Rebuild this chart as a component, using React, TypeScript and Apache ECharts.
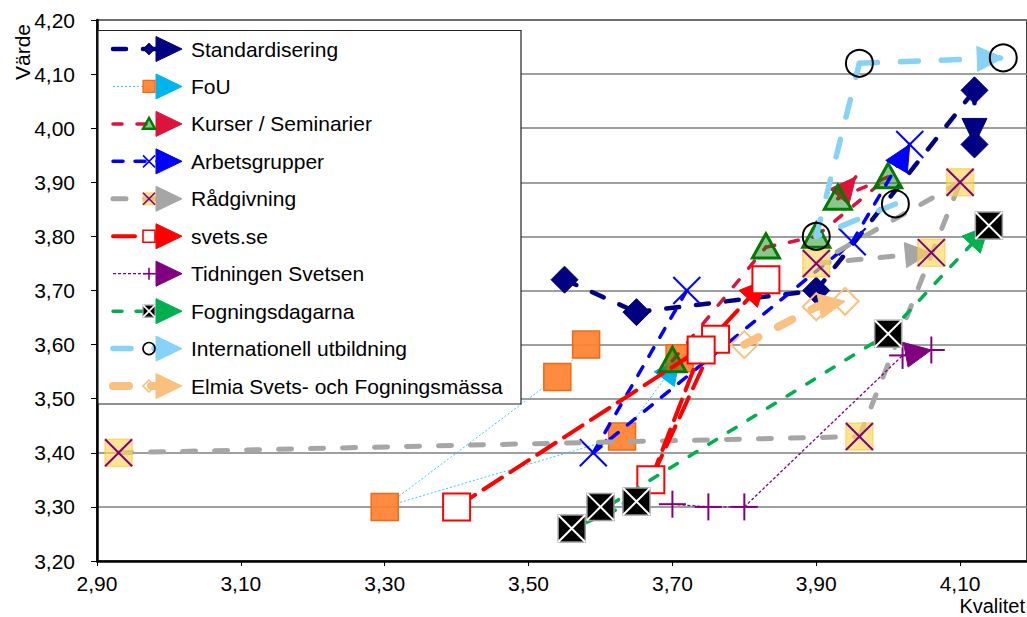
import React, { useEffect, useRef } from 'react';
import * as echarts from 'echarts';

// ---------- data ----------
const seriesNames = [
  'Standardisering',
  'FoU',
  'Kurser / Seminarier',
  'Arbetsgrupper',
  'Rådgivning',
  'svets.se',
  'Tidningen Svetsen',
  'Fogningsdagarna',
  'Internationell utbildning',
  'Elmia Svets- och Fogningsmässa',
];

// [Kvalitet, Värde]
const standardisering = [[3.55, 3.72], [3.65, 3.66], [3.90, 3.70], [4.12, 4.07], [4.12, 3.97]];
const fou = [[3.58, 3.60], [3.54, 3.54], [3.30, 3.30], [3.63, 3.43], [3.71, 3.575]];
const kurser = [[3.70, 3.57], [3.83, 3.78], [3.90, 3.80], [4.00, 3.91], [3.93, 3.87], [3.955, 3.91]];
const arbetsgrupper = [[3.72, 3.70], [3.59, 3.40], [3.95, 3.79], [4.03, 3.97]];
const radgivning = [[2.93, 3.40], [3.96, 3.43], [4.10, 3.90], [3.90, 3.75], [4.06, 3.77]];
const svetsSe = [[3.40, 3.30], [3.76, 3.61], [3.67, 3.35], [3.74, 3.59], [3.83, 3.72]];
const tidningen = [[3.70, 3.305], [3.75, 3.30], [3.80, 3.30], [4.02, 3.58], [4.06, 3.59]];
const fogningsdagarna = [[3.60, 3.30], [3.65, 3.31], [3.56, 3.26], [4.00, 3.62], [4.14, 3.82]];
const internationell = [[4.01, 3.86], [3.90, 3.80], [3.96, 4.12], [4.16, 4.13]];
const elmia = [[3.80, 3.60], [3.90, 3.67], [3.94, 3.68]];

const seriesData = [
  standardisering, fou, kurser, arbetsgrupper, radgivning,
  svetsSe, tidningen, fogningsdagarna, internationell, elmia,
];

const xTicks = [2.9, 3.1, 3.3, 3.5, 3.7, 3.9, 4.1];
const yTicks = [3.2, 3.3, 3.4, 3.5, 3.6, 3.7, 3.8, 3.9, 4.0, 4.1, 4.2];
const X_MAX = 4.193;
const xAxisTitle = 'Kvalitet';
const yAxisTitle = 'Värde';

// ---------- styles ----------
type St = {
  color: string; width: number; dash: number[]; cap?: string; arrow: string;
  marker: string; fill?: string; stroke?: string; cross?: string; mlw?: number; hideLast?: boolean;
};
const styles: St[] = [
  { color: '#000080', width: 4.5, dash: [13, 17], arrow: '#000080', marker: 'diamond', fill: '#000080', stroke: '#000080', mlw: 1 },
  { color: '#33CCFF', width: 1, dash: [2, 2], cap: 'butt', arrow: '#00B4EF', marker: 'square', fill: 'rgba(255,128,48,0.92)', stroke: '#F06A12', mlw: 1.5 },
  { color: '#DC143C', width: 3.5, dash: [9, 15], arrow: '#DC143C', marker: 'triangle', fill: 'rgba(0,128,0,0.45)', stroke: '#007A00', mlw: 3, hideLast: true },
  { color: '#0000FF', width: 3.5, dash: [10, 12], arrow: '#0000FF', marker: 'x', stroke: '#0000FF', mlw: 2 },
  { color: '#A6A6A6', width: 5, dash: [13, 19], arrow: '#A6A6A6', marker: 'xsquare', fill: 'rgba(255,214,90,0.65)', stroke: 'rgba(250,200,60,0.6)', cross: '#7F007F', mlw: 1.5 },
  { color: '#FF0000', width: 4, dash: [22, 10], arrow: '#FF0000', marker: 'square', fill: '#FFFFFF', stroke: '#FF0000', mlw: 2 },
  { color: '#800080', width: 1.3, dash: [3, 2], cap: 'butt', arrow: '#800080', marker: 'plus', stroke: '#800080', mlw: 2 },
  { color: '#00B050', width: 3.5, dash: [9, 14], arrow: '#00B050', marker: 'xsquare', fill: '#000000', stroke: '#9A9A9A', cross: '#FFFFFF', mlw: 1.5 },
  { color: '#87D3F8', width: 5.5, dash: [18, 23], arrow: '#87D3F8', marker: 'circle', fill: 'none', stroke: '#000000', mlw: 2 },
  { color: '#FAC080', width: 8, dash: [16, 22], arrow: '#FAC080', marker: 'diamond', fill: 'none', stroke: '#FAC080', mlw: 2 },
];

const FONT = '"Liberation Sans", Arial, sans-serif';

function markerEls(st: St, cx: number, cy: number, s: number, z2: number, lwScale = 1): any[] {
  const lw = (st.mlw || 1) * lwScale;
  const els: any[] = [];
  const stroke = st.stroke || st.color;
  switch (st.marker) {
    case 'diamond':
      els.push({ type: 'polygon', z2, shape: { points: [[cx, cy - s], [cx + s, cy], [cx, cy + s], [cx - s, cy]] }, style: { fill: st.fill, stroke, lineWidth: lw } });
      break;
    case 'square':
      els.push({ type: 'rect', z2, shape: { x: cx - s, y: cy - s, width: 2 * s, height: 2 * s }, style: { fill: st.fill, stroke, lineWidth: lw } });
      break;
    case 'triangle':
      els.push({ type: 'polygon', z2, shape: { points: [[cx, cy - s], [cx + s, cy + s * 0.8], [cx - s, cy + s * 0.8]] }, style: { fill: st.fill, stroke, lineWidth: lw, lineJoin: 'miter' } });
      break;
    case 'x':
      els.push({ type: 'line', z2, shape: { x1: cx - s, y1: cy - s, x2: cx + s, y2: cy + s }, style: { stroke, lineWidth: lw } });
      els.push({ type: 'line', z2, shape: { x1: cx - s, y1: cy + s, x2: cx + s, y2: cy - s }, style: { stroke, lineWidth: lw } });
      break;
    case 'plus':
      els.push({ type: 'line', z2, shape: { x1: cx - s, y1: cy, x2: cx + s, y2: cy }, style: { stroke, lineWidth: lw } });
      els.push({ type: 'line', z2, shape: { x1: cx, y1: cy - s, x2: cx, y2: cy + s }, style: { stroke, lineWidth: lw } });
      break;
    case 'xsquare':
      els.push({ type: 'rect', z2, shape: { x: cx - s, y: cy - s, width: 2 * s, height: 2 * s }, style: { fill: st.fill, stroke, lineWidth: lw } });
      els.push({ type: 'line', z2: z2 + 1, shape: { x1: cx - s, y1: cy - s, x2: cx + s, y2: cy + s }, style: { stroke: st.cross, lineWidth: 2 * lwScale } });
      els.push({ type: 'line', z2: z2 + 1, shape: { x1: cx - s, y1: cy + s, x2: cx + s, y2: cy - s }, style: { stroke: st.cross, lineWidth: 2 * lwScale } });
      break;
    case 'circle':
      els.push({ type: 'circle', z2, shape: { cx, cy, r: s }, style: { fill: st.fill, stroke, lineWidth: lw } });
      break;
  }
  return els;
}

function arrowEl(q: number[], p: number[], color: string, L: number, W: number, z2: number) {
  let dx = p[0] - q[0];
  let dy = p[1] - q[1];
  const len = Math.sqrt(dx * dx + dy * dy) || 1;
  dx /= len; dy /= len;
  const bx = p[0] - dx * L;
  const by = p[1] - dy * L;
  const px = -dy, py = dx;
  return {
    type: 'polygon', z2,
    shape: { points: [[p[0], p[1]], [bx + px * W, by + py * W], [bx - px * W, by - py * W]] },
    style: { fill: color, stroke: color, lineWidth: 1 },
  };
}

function makeRenderItem(pts: number[][], st: St) {
  return (params: any, api: any) => {
    const i = params.dataIndex;
    const children: any[] = [];
    const p = api.coord(pts[i]);
    if (i > 0) {
      const q = api.coord(pts[i - 1]);
      children.push({
        type: 'line', z2: 1,
        shape: { x1: q[0], y1: q[1], x2: p[0], y2: p[1] },
        style: { stroke: st.color, lineWidth: st.width, lineDash: st.dash, lineCap: st.cap || 'round', fill: 'none' },
      });
      if (i === pts.length - 1) {
        children.push(arrowEl(q, p, st.arrow, 26, 12.5, 2));
      }
    }
    if (!(st.hideLast && i === pts.length - 1)) {
      children.push(...markerEls(st, p[0], p[1], 13.5, 3));
    }
    return { type: 'group', children };
  };
}

function buildLegend(): any[] {
  const els: any[] = [];
  els.push({
    type: 'rect', z: 100,
    shape: { x: 98, y: 30.5, width: 423, height: 373.5 },
    style: { fill: '#FFFFFF', stroke: '#222222', lineWidth: 1.2 },
  });
  const y0 = 49;
  const step = 37.45;
  seriesNames.forEach((name, k) => {
    const st = styles[k];
    const y = y0 + k * step;
    els.push({
      type: 'line', z: 101,
      shape: { x1: 113, y1: y, x2: 165, y2: y },
      style: { stroke: st.color, lineWidth: st.width, lineDash: st.dash, lineCap: st.cap || 'round' },
    });
    els.push({
      type: 'polygon', z: 102,
      shape: { points: [[182, y], [156, y - 12.5], [156, y + 12.5]] },
      style: { fill: st.arrow, stroke: st.arrow, lineWidth: 1 },
    });
    markerEls(st, 149, y, 6, 0, 0.8).forEach((e) => {
      els.push({ ...e, z: 103 });
    });
    els.push({
      type: 'text', z: 104,
      x: 191, y,
      style: { text: name, fill: '#000000', fontSize: 21, fontFamily: FONT, verticalAlign: 'middle', align: 'left' },
    });
  });
  return els;
}

const fmt = (v: number) => v.toFixed(2).replace('.', ',');

export default function App() {
  const ref = useRef<HTMLDivElement>(null);
  useEffect(() => {
    if (!ref.current) return;
    const chart = echarts.init(ref.current, undefined, { renderer: 'svg' });
    const series = seriesData.map((pts, k) => ({
      type: 'custom',
      name: seriesNames[k],
      coordinateSystem: 'cartesian2d',
      z: 10 + k,
      clip: false,
      data: pts,
      encode: { x: 0, y: 1 },
      renderItem: makeRenderItem(pts, styles[k]),
    }));
    const option: any = {
      animation: false,
      backgroundColor: '#FFFFFF',
      grid: {
        left: 97, top: 20, width: (X_MAX - xTicks[0]) * 721.7, height: 541,
        show: true, borderColor: '#000000', borderWidth: 1.5, backgroundColor: 'transparent',
      },
      xAxis: {
        type: 'value',
        min: xTicks[0],
        max: X_MAX,
        interval: 0.2,
        axisLine: { show: true, lineStyle: { color: '#000000', width: 2.5 } },
        axisTick: { show: true, length: 5, lineStyle: { color: '#000000', width: 1 } },
        axisLabel: {
          color: '#000000', fontSize: 21, fontFamily: FONT, margin: 12,
          showMaxLabel: false,
          formatter: (v: number) => (xTicks.some((t) => Math.abs(t - v) < 1e-6) ? fmt(v) : ''),
        },
        splitLine: { show: false },
      },
      yAxis: {
        type: 'value',
        min: yTicks[0],
        max: yTicks[yTicks.length - 1],
        interval: 0.1,
        axisLine: { show: true, lineStyle: { color: '#000000', width: 2.5 } },
        axisTick: { show: true, length: 6, lineStyle: { color: '#000000', width: 1 } },
        axisLabel: { color: '#000000', fontSize: 21, fontFamily: FONT, margin: 22, formatter: fmt },
        splitLine: { show: true, lineStyle: { color: '#7F7F7F', width: 1.5 } },
      },
      graphic: [
        ...buildLegend(),
        {
          type: 'text', z: 100, x: 1025, y: 606,
          style: { text: xAxisTitle, fill: '#000000', fontSize: 20, fontFamily: FONT, align: 'right', verticalAlign: 'middle' },
        },
        {
          type: 'text', z: 100, x: 22, y: 52, rotation: Math.PI / 2,
          style: { text: yAxisTitle, fill: '#000000', fontSize: 21, fontFamily: FONT, align: 'center', verticalAlign: 'middle' },
        },
      ],
      series,
    };
    chart.setOption(option);
    return () => chart.dispose();
  }, []);
  return (
    <div
      ref={ref}
      style={{ position: 'fixed', left: 0, top: 0, width: 1027, height: 617, background: '#FFFFFF' }}
    />
  );
}
